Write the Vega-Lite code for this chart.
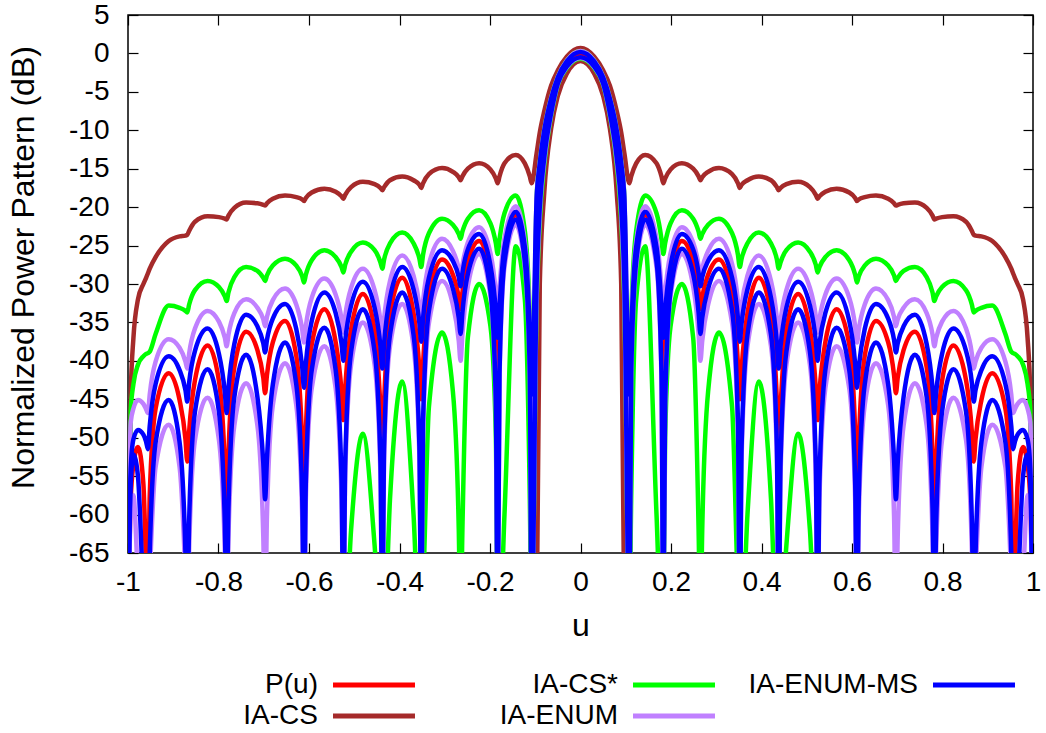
{
"$schema": "https://vega.github.io/schema/vega-lite/v6.json",
"width": 905, "height": 538,
"autosize": {"type": "none"},
"padding": {"left": 128, "top": 15, "right": 13, "bottom": 180},
"config": {
  "font": "Liberation Sans",
  "view": {"stroke": "black", "strokeWidth": 1.5},
  "axis": {"labelFont": "Liberation Sans", "labelFontSize": 28, "labelColor": "black", "titleFont": "Liberation Sans", "titleFontSize": 32, "titleFontWeight": "normal", "titleColor": "black", "tickColor": "black", "tickWidth": 1.2, "grid": false, "domain": false},
  "legend": {"labelFont": "Liberation Sans", "labelFontSize": 28, "labelColor": "black"}
},
"datasets": {
"keys": [{"k":"P","series":"P(u)"},{"k":"Su","series":"IA-CS"},{"k":"Sl","series":"IA-CS"},{"k":"Gu","series":"IA-CS*"},{"k":"Gl","series":"IA-CS*"},{"k":"Eu","series":"IA-ENUM"},{"k":"El","series":"IA-ENUM"},{"k":"Mu","series":"IA-ENUM-MS"},{"k":"Ml","series":"IA-ENUM-MS"}],
"d": [
{"u":0,"P":0,"Su":0.7,"Sl":-1.0,"Gu":0.3,"Gl":-0.7,"Eu":0.3,"El":-0.6,"Mu":0.2,"Ml":-0.5},
{"u":0.03,"P":-1.2,"Su":-0.4,"Sl":-2.6,"Gu":-0.9,"Gl":-1.9,"Eu":-0.9,"El":-1.8,"Mu":-1.0,"Ml":-1.7},
{"u":0.05,"P":-3.4,"Su":-2.2,"Sl":-5.5,"Gu":-3.0,"Gl":-4.1,"Eu":-3.0,"El":-4.0,"Mu":-3.1,"Ml":-3.9},
{"u":0.065,"P":-6.3,"Su":-4.2,"Sl":-9.8,"Gu":-5.8,"Gl":-8.2,"Eu":-5.8,"El":-8.0,"Mu":-5.9,"Ml":-7.8},
{"u":0.08,"P":-10.6,"Su":-7.5,"Sl":-18,"Gu":-9.9,"Gl":-14.5,"Eu":-9.9,"El":-14,"Mu":-10.0,"Ml":-13.5},
{"u":0.09,"P":-15.3,"Su":-10.3,"Sl":-30,"Gu":-14.2,"Gl":-22,"Eu":-14.2,"El":-21,"Mu":-14.3,"Ml":-20},
{"u":0.097,"P":-20.7,"Su":-13.0,"Sl":-75,"Gu":-18.8,"Gl":-33,"Eu":-18.8,"El":-32,"Mu":-19.0,"Ml":-30},
{"u":0.108,"P":-75,"Su":-16.9,"Gu":-75,"Gl":-75,"Eu":-58.3,"El":-75,"Mu":-44.4,"Ml":-75},
{"u":0.112,"P":-37,"Su":-16.0,"Gu":-34.5,"Gl":-58,"Eu":-35.9,"El":-42.3,"Mu":-36.6,"Ml":-41.6},
{"u":0.123,"P":-25.6,"Su":-14.3,"Gu":-23.1,"Gl":-32,"Eu":-24.5,"El":-27.8,"Mu":-25.2,"Ml":-27.1},
{"u":0.143,"P":-21.0,"Su":-13.2,"Gu":-18.5,"Gl":-25.1,"Eu":-19.9,"El":-22.3,"Mu":-20.6,"Ml":-21.6},
{"u":0.168,"P":-25.6,"Su":-14.3,"Gu":-20.8,"Gl":-60,"Eu":-24.1,"El":-27.8,"Mu":-25.2,"Ml":-27.1},
{"u":0.179,"P":-36.8,"Su":-16.0,"Gu":-24.2,"Gl":-75,"Eu":-30.5,"El":-42.3,"Mu":-32.9,"Ml":-41.6},
{"u":0.183,"P":-42,"Su":-16.9,"Gu":-26.1,"Gl":-75,"Eu":-34,"El":-75,"Mu":-37,"Ml":-75},
{"u":0.187,"P":-37.6,"Su":-16.3,"Gu":-24.7,"Gl":-50,"Eu":-31.2,"El":-46.1,"Mu":-33.6,"Ml":-45.4},
{"u":0.199,"P":-29.0,"Su":-15.1,"Gu":-22.1,"Gl":-35.5,"Eu":-26.0,"El":-31.6,"Mu":-27.6,"Ml":-30.9},
{"u":0.224,"P":-24.4,"Su":-14.3,"Gu":-20.4,"Gl":-30,"Eu":-22.6,"El":-26.1,"Mu":-23.5,"Ml":-25.4},
{"u":0.249,"P":-27.1,"Su":-15.0,"Gu":-21.5,"Gl":-37,"Eu":-24.6,"El":-30.3,"Mu":-25.5,"Ml":-28.7},
{"u":0.261,"P":-31.1,"Su":-16.0,"Gu":-23.2,"Gl":-62,"Eu":-27.6,"El":-36.5,"Mu":-28.6,"Ml":-33.7},
{"u":0.265,"P":-33.3,"Su":-16.5,"Gu":-24.1,"Gl":-75,"Eu":-29.3,"El":-40,"Mu":-30.3,"Ml":-36.5},
{"u":0.269,"P":-31.7,"Su":-16.1,"Gu":-23.5,"Gl":-62,"Eu":-28.0,"El":-37.4,"Mu":-29.1,"Ml":-34.4},
{"u":0.282,"P":-28.8,"Su":-15.4,"Gu":-22.3,"Gl":-44,"Eu":-25.7,"El":-32.7,"Mu":-27.0,"Ml":-30.6},
{"u":0.306,"P":-26.8,"Su":-14.9,"Gu":-21.5,"Gl":-36.3,"Eu":-24.1,"El":-29.6,"Mu":-25.6,"Ml":-28.0},
{"u":0.335,"P":-31.4,"Su":-15.7,"Gu":-23.4,"Gl":-46,"Eu":-27.4,"El":-35.1,"Mu":-29.2,"Ml":-33.5},
{"u":0.348,"P":-40.5,"Su":-16.9,"Gu":-26.2,"Gl":-70,"Eu":-32.3,"El":-49.6,"Mu":-34.5,"Ml":-48},
{"u":0.352,"P":-45,"Su":-17.5,"Gu":-27.8,"Gl":-75,"Eu":-35,"El":-75,"Mu":-37.5,"Ml":-75},
{"u":0.356,"P":-41.1,"Su":-17.1,"Gu":-26.7,"Gl":-75,"Eu":-32.8,"El":-52.6,"Mu":-35.1,"Ml":-51.1},
{"u":0.369,"P":-33.8,"Su":-16.5,"Gu":-24.7,"Gl":-60,"Eu":-28.9,"El":-38.1,"Mu":-30.7,"Ml":-36.6},
{"u":0.394,"P":-29.2,"Su":-16.0,"Gu":-23.3,"Gl":-42.7,"Eu":-26.3,"El":-32.6,"Mu":-27.8,"Ml":-31.1},
{"u":0.421,"P":-33.8,"Su":-16.5,"Gu":-24.7,"Gl":-58,"Eu":-29.6,"El":-38.1,"Mu":-31.8,"Ml":-36.6},
{"u":0.434,"P":-45.2,"Su":-17.4,"Gu":-26.8,"Gl":-75,"Eu":-34.5,"El":-52.6,"Mu":-37.7,"Ml":-51.1},
{"u":0.438,"P":-51.2,"Su":-17.8,"Gu":-28.0,"Gl":-75,"Eu":-37.2,"El":-75,"Mu":-41,"Ml":-75},
{"u":0.442,"P":-46.2,"Su":-17.5,"Gu":-27.2,"Gl":-75,"Eu":-34.9,"El":-55,"Mu":-38.2,"Ml":-53.3},
{"u":0.455,"P":-35.9,"Su":-17.0,"Gu":-25.6,"Gl":-64,"Eu":-30.8,"El":-40.5,"Mu":-33.1,"Ml":-38.8},
{"u":0.481,"P":-31.3,"Su":-16.7,"Gu":-24.6,"Gl":-49.5,"Eu":-28.0,"El":-35,"Mu":-29.7,"Ml":-33.3},
{"u":0.507,"P":-35.9,"Su":-17.4,"Gu":-25.8,"Gl":-62,"Eu":-30.5,"El":-40.5,"Mu":-32.8,"Ml":-38.8},
{"u":0.520,"P":-43.6,"Su":-18.4,"Gu":-27.5,"Gl":-75,"Eu":-34.2,"El":-55,"Mu":-37.4,"Ml":-53.3},
{"u":0.524,"P":-47.7,"Su":-18.9,"Gu":-28.5,"Gl":-75,"Eu":-36.3,"El":-75,"Mu":-40,"Ml":-75},
{"u":0.528,"P":-44.1,"Su":-18.6,"Gu":-27.8,"Eu":-34.6,"El":-58.1,"Mu":-37.8,"Ml":-55.7},
{"u":0.541,"P":-37.6,"Su":-18.0,"Gu":-26.5,"Eu":-31.4,"El":-43.6,"Mu":-33.8,"Ml":-41.2},
{"u":0.566,"P":-33.3,"Su":-17.6,"Gu":-25.6,"Eu":-29.3,"El":-38.1,"Mu":-31.1,"Ml":-35.7},
{"u":0.594,"P":-37.9,"Su":-18.1,"Gu":-26.9,"Eu":-31.8,"El":-43.6,"Mu":-34.8,"Ml":-41.2},
{"u":0.607,"P":-49.3,"Su":-18.8,"Gu":-28.8,"Eu":-35.5,"El":-58.1,"Mu":-40.4,"Ml":-55.7},
{"u":0.611,"P":-60.4,"Su":-19.2,"Gu":-29.8,"Eu":-37.6,"El":-75,"Mu":-43.5,"Ml":-75},
{"u":0.615,"P":-50.8,"Su":-19.0,"Gu":-29.0,"Eu":-35.9,"El":-60.3,"Mu":-40.8,"Ml":-57.6},
{"u":0.628,"P":-39.4,"Su":-18.7,"Gu":-27.6,"Eu":-32.7,"El":-45.8,"Mu":-35.9,"Ml":-43.1},
{"u":0.653,"P":-34.8,"Su":-18.5,"Gu":-26.7,"Eu":-30.6,"El":-40.3,"Mu":-32.6,"Ml":-37.6},
{"u":0.680,"P":-37.6,"Su":-18.9,"Gu":-27.6,"Eu":-32.1,"El":-45.8,"Mu":-34.5,"Ml":-43.1},
{"u":0.693,"P":-41.9,"Su":-19.5,"Gu":-28.9,"Eu":-34.3,"El":-60.3,"Mu":-37.3,"Ml":-52.9},
{"u":0.697,"P":-44.2,"Su":-19.8,"Gu":-29.6,"Eu":-35.5,"El":-75,"Mu":-38.9,"Ml":-58},
{"u":0.701,"P":-42.2,"Su":-19.7,"Gu":-29.2,"Eu":-34.6,"El":-62.9,"Mu":-37.7,"Ml":-53.3},
{"u":0.714,"P":-38.6,"Su":-19.5,"Gu":-28.3,"Eu":-33.1,"El":-48.4,"Mu":-35.5,"Ml":-44.7},
{"u":0.739,"P":-36.2,"Su":-19.4,"Gu":-27.8,"Eu":-32.0,"El":-42.9,"Mu":-34.0,"Ml":-39.2},
{"u":0.765,"P":-40.8,"Su":-20.1,"Gu":-29.1,"Eu":-33.8,"El":-48.4,"Mu":-37.8,"Ml":-44.7},
{"u":0.778,"P":-52.2,"Su":-21.1,"Gu":-31.1,"Eu":-36.6,"El":-62.9,"Mu":-43.6,"Ml":-59.2},
{"u":0.782,"P":-63.2,"Su":-21.6,"Gu":-32.2,"Eu":-38.1,"El":-75,"Mu":-46.8,"Ml":-75},
{"u":0.786,"P":-54,"Su":-21.5,"Gu":-31.6,"Eu":-37.0,"El":-64.8,"Mu":-44.1,"Ml":-61.1},
{"u":0.799,"P":-42.6,"Su":-21.3,"Gu":-30.4,"Eu":-34.9,"El":-50.3,"Mu":-39.1,"Ml":-46.6},
{"u":0.824,"P":-38.0,"Su":-21.2,"Gu":-29.6,"Eu":-33.5,"El":-44.8,"Mu":-35.8,"Ml":-41.1},
{"u":0.852,"P":-42.5,"Su":-21.9,"Gu":-30.8,"Eu":-35.8,"El":-50.3,"Mu":-38.7,"Ml":-46.6},
{"u":0.865,"P":-49.3,"Su":-23.1,"Gu":-32.7,"Eu":-39.1,"El":-64.8,"Mu":-42.9,"Ml":-61.1},
{"u":0.869,"P":-53.1,"Su":-23.6,"Gu":-33.7,"Eu":-41,"El":-75,"Mu":-45.3,"Ml":-75},
{"u":0.873,"P":-50.2,"Su":-23.7,"Gu":-33.5,"Eu":-40.1,"El":-68.3,"Mu":-43.8,"Ml":-65.1},
{"u":0.886,"P":-45.1,"Su":-23.8,"Gu":-33.1,"Eu":-38.3,"El":-53.8,"Mu":-41.2,"Ml":-50.6},
{"u":0.910,"P":-41.6,"Su":-24.4,"Gu":-32.8,"Eu":-37.2,"El":-48.3,"Mu":-39.4,"Ml":-45.1},
{"u":0.939,"P":-46.2,"Su":-26.5,"Gu":-36.5,"Eu":-40.1,"El":-53.8,"Mu":-43.0,"Ml":-50.6},
{"u":0.952,"P":-57.6,"Su":-28.0,"Gu":-38.8,"Eu":-44.4,"El":-68.3,"Mu":-48.5,"Ml":-65.1},
{"u":0.956,"P":-75,"Su":-28.6,"Gu":-39.0,"Eu":-46.8,"El":-75,"Mu":-51.5,"Ml":-75},
{"u":0.960,"P":-67,"Su":-29.2,"Gu":-39.1,"Eu":-46.3,"El":-75,"Mu":-50.5,"Ml":-75},
{"u":0.966,"P":-56,"Su":-30.0,"Gu":-39.4,"Eu":-45.6,"El":-75,"Mu":-49.6,"Ml":-70},
{"u":0.978,"P":-51.2,"Su":-32.0,"Gu":-40.5,"Eu":-45.1,"El":-68,"Mu":-49.0,"Ml":-55},
{"u":0.988,"P":-53.5,"Su":-37,"Gu":-43,"Eu":-46.2,"El":-57.5,"Mu":-50.2,"Ml":-52.2},
{"u":0.994,"P":-58,"Su":-44.5,"Gu":-46.5,"Eu":-48,"El":-60,"Mu":-54,"Ml":-56},
{"u":1.0,"P":-75,"Su":-75,"Gu":-75,"Eu":-75,"El":-75,"Mu":-75,"Ml":-75},
{"u":-0.03,"P":-1.2,"Su":-0.4,"Sl":-2.6,"Gu":-0.9,"Gl":-1.9,"Eu":-0.9,"El":-1.8,"Mu":-1.0,"Ml":-1.7},
{"u":-0.05,"P":-3.4,"Su":-2.2,"Sl":-5.5,"Gu":-3.0,"Gl":-4.1,"Eu":-3.0,"El":-4.0,"Mu":-3.1,"Ml":-3.9},
{"u":-0.065,"P":-6.3,"Su":-4.2,"Sl":-9.8,"Gu":-5.8,"Gl":-8.2,"Eu":-5.8,"El":-8.0,"Mu":-5.9,"Ml":-7.8},
{"u":-0.08,"P":-10.6,"Su":-7.5,"Sl":-18,"Gu":-9.9,"Gl":-14.5,"Eu":-9.9,"El":-14,"Mu":-10.0,"Ml":-13.5},
{"u":-0.09,"P":-15.3,"Su":-10.3,"Sl":-30,"Gu":-14.2,"Gl":-22,"Eu":-14.2,"El":-21,"Mu":-14.3,"Ml":-20},
{"u":-0.097,"P":-20.7,"Su":-13.0,"Sl":-75,"Gu":-18.8,"Gl":-33,"Eu":-18.8,"El":-32,"Mu":-19.0,"Ml":-30},
{"u":-0.108,"P":-75,"Su":-16.9,"Gu":-75,"Gl":-75,"Eu":-58.3,"El":-75,"Mu":-44.4,"Ml":-75},
{"u":-0.112,"P":-37,"Su":-16.0,"Gu":-34.5,"Gl":-58,"Eu":-35.9,"El":-42.3,"Mu":-36.6,"Ml":-41.6},
{"u":-0.123,"P":-25.6,"Su":-14.3,"Gu":-23.1,"Gl":-32,"Eu":-24.5,"El":-27.8,"Mu":-25.2,"Ml":-27.1},
{"u":-0.143,"P":-21.0,"Su":-13.2,"Gu":-18.5,"Gl":-25.1,"Eu":-19.9,"El":-22.3,"Mu":-20.6,"Ml":-21.6},
{"u":-0.168,"P":-25.6,"Su":-14.3,"Gu":-20.8,"Gl":-60,"Eu":-24.1,"El":-27.8,"Mu":-25.2,"Ml":-27.1},
{"u":-0.179,"P":-36.8,"Su":-16.0,"Gu":-24.2,"Gl":-75,"Eu":-30.5,"El":-42.3,"Mu":-32.9,"Ml":-41.6},
{"u":-0.183,"P":-42,"Su":-16.9,"Gu":-26.1,"Gl":-75,"Eu":-34,"El":-75,"Mu":-37,"Ml":-75},
{"u":-0.187,"P":-37.6,"Su":-16.3,"Gu":-24.7,"Gl":-50,"Eu":-31.2,"El":-46.1,"Mu":-33.6,"Ml":-45.4},
{"u":-0.199,"P":-29.0,"Su":-15.1,"Gu":-22.1,"Gl":-35.5,"Eu":-26.0,"El":-31.6,"Mu":-27.6,"Ml":-30.9},
{"u":-0.224,"P":-24.4,"Su":-14.3,"Gu":-20.4,"Gl":-30,"Eu":-22.6,"El":-26.1,"Mu":-23.5,"Ml":-25.4},
{"u":-0.249,"P":-27.1,"Su":-15.0,"Gu":-21.5,"Gl":-37,"Eu":-24.6,"El":-30.3,"Mu":-25.5,"Ml":-28.7},
{"u":-0.261,"P":-31.1,"Su":-16.0,"Gu":-23.2,"Gl":-62,"Eu":-27.6,"El":-36.5,"Mu":-28.6,"Ml":-33.7},
{"u":-0.265,"P":-33.3,"Su":-16.5,"Gu":-24.1,"Gl":-75,"Eu":-29.3,"El":-40,"Mu":-30.3,"Ml":-36.5},
{"u":-0.269,"P":-31.7,"Su":-16.1,"Gu":-23.5,"Gl":-62,"Eu":-28.0,"El":-37.4,"Mu":-29.1,"Ml":-34.4},
{"u":-0.282,"P":-28.8,"Su":-15.4,"Gu":-22.3,"Gl":-44,"Eu":-25.7,"El":-32.7,"Mu":-27.0,"Ml":-30.6},
{"u":-0.306,"P":-26.8,"Su":-14.9,"Gu":-21.5,"Gl":-36.3,"Eu":-24.1,"El":-29.6,"Mu":-25.6,"Ml":-28.0},
{"u":-0.335,"P":-31.4,"Su":-15.7,"Gu":-23.4,"Gl":-46,"Eu":-27.4,"El":-35.1,"Mu":-29.2,"Ml":-33.5},
{"u":-0.348,"P":-40.5,"Su":-16.9,"Gu":-26.2,"Gl":-70,"Eu":-32.3,"El":-49.6,"Mu":-34.5,"Ml":-48},
{"u":-0.352,"P":-45,"Su":-17.5,"Gu":-27.8,"Gl":-75,"Eu":-35,"El":-75,"Mu":-37.5,"Ml":-75},
{"u":-0.356,"P":-41.1,"Su":-17.1,"Gu":-26.7,"Gl":-75,"Eu":-32.8,"El":-52.6,"Mu":-35.1,"Ml":-51.1},
{"u":-0.369,"P":-33.8,"Su":-16.5,"Gu":-24.7,"Gl":-60,"Eu":-28.9,"El":-38.1,"Mu":-30.7,"Ml":-36.6},
{"u":-0.394,"P":-29.2,"Su":-16.0,"Gu":-23.3,"Gl":-42.7,"Eu":-26.3,"El":-32.6,"Mu":-27.8,"Ml":-31.1},
{"u":-0.421,"P":-33.8,"Su":-16.5,"Gu":-24.7,"Gl":-58,"Eu":-29.6,"El":-38.1,"Mu":-31.8,"Ml":-36.6},
{"u":-0.434,"P":-45.2,"Su":-17.4,"Gu":-26.8,"Gl":-75,"Eu":-34.5,"El":-52.6,"Mu":-37.7,"Ml":-51.1},
{"u":-0.438,"P":-51.2,"Su":-17.8,"Gu":-28.0,"Gl":-75,"Eu":-37.2,"El":-75,"Mu":-41,"Ml":-75},
{"u":-0.442,"P":-46.2,"Su":-17.5,"Gu":-27.2,"Gl":-75,"Eu":-34.9,"El":-55,"Mu":-38.2,"Ml":-53.3},
{"u":-0.455,"P":-35.9,"Su":-17.0,"Gu":-25.6,"Gl":-64,"Eu":-30.8,"El":-40.5,"Mu":-33.1,"Ml":-38.8},
{"u":-0.481,"P":-31.3,"Su":-16.7,"Gu":-24.6,"Gl":-49.5,"Eu":-28.0,"El":-35,"Mu":-29.7,"Ml":-33.3},
{"u":-0.507,"P":-35.9,"Su":-17.4,"Gu":-25.8,"Gl":-62,"Eu":-30.5,"El":-40.5,"Mu":-32.8,"Ml":-38.8},
{"u":-0.520,"P":-43.6,"Su":-18.4,"Gu":-27.5,"Gl":-75,"Eu":-34.2,"El":-55,"Mu":-37.4,"Ml":-53.3},
{"u":-0.524,"P":-47.7,"Su":-18.9,"Gu":-28.5,"Gl":-75,"Eu":-36.3,"El":-75,"Mu":-40,"Ml":-75},
{"u":-0.528,"P":-44.1,"Su":-18.6,"Gu":-27.8,"Eu":-34.6,"El":-58.1,"Mu":-37.8,"Ml":-55.7},
{"u":-0.541,"P":-37.6,"Su":-18.0,"Gu":-26.5,"Eu":-31.4,"El":-43.6,"Mu":-33.8,"Ml":-41.2},
{"u":-0.566,"P":-33.3,"Su":-17.6,"Gu":-25.6,"Eu":-29.3,"El":-38.1,"Mu":-31.1,"Ml":-35.7},
{"u":-0.594,"P":-37.9,"Su":-18.1,"Gu":-26.9,"Eu":-31.8,"El":-43.6,"Mu":-34.8,"Ml":-41.2},
{"u":-0.607,"P":-49.3,"Su":-18.8,"Gu":-28.8,"Eu":-35.5,"El":-58.1,"Mu":-40.4,"Ml":-55.7},
{"u":-0.611,"P":-60.4,"Su":-19.2,"Gu":-29.8,"Eu":-37.6,"El":-75,"Mu":-43.5,"Ml":-75},
{"u":-0.615,"P":-50.8,"Su":-19.0,"Gu":-29.0,"Eu":-35.9,"El":-60.3,"Mu":-40.8,"Ml":-57.6},
{"u":-0.628,"P":-39.4,"Su":-18.7,"Gu":-27.6,"Eu":-32.7,"El":-45.8,"Mu":-35.9,"Ml":-43.1},
{"u":-0.653,"P":-34.8,"Su":-18.5,"Gu":-26.7,"Eu":-30.6,"El":-40.3,"Mu":-32.6,"Ml":-37.6},
{"u":-0.680,"P":-37.6,"Su":-18.9,"Gu":-27.6,"Eu":-32.1,"El":-45.8,"Mu":-34.5,"Ml":-43.1},
{"u":-0.693,"P":-41.9,"Su":-19.5,"Gu":-28.9,"Eu":-34.3,"El":-60.3,"Mu":-37.3,"Ml":-52.9},
{"u":-0.697,"P":-44.2,"Su":-19.8,"Gu":-29.6,"Eu":-35.5,"El":-75,"Mu":-38.9,"Ml":-58},
{"u":-0.701,"P":-42.2,"Su":-19.7,"Gu":-29.2,"Eu":-34.6,"El":-62.9,"Mu":-37.7,"Ml":-53.3},
{"u":-0.714,"P":-38.6,"Su":-19.5,"Gu":-28.3,"Eu":-33.1,"El":-48.4,"Mu":-35.5,"Ml":-44.7},
{"u":-0.739,"P":-36.2,"Su":-19.4,"Gu":-27.8,"Eu":-32.0,"El":-42.9,"Mu":-34.0,"Ml":-39.2},
{"u":-0.765,"P":-40.8,"Su":-20.1,"Gu":-29.1,"Eu":-33.8,"El":-48.4,"Mu":-37.8,"Ml":-44.7},
{"u":-0.778,"P":-52.2,"Su":-21.1,"Gu":-31.1,"Eu":-36.6,"El":-62.9,"Mu":-43.6,"Ml":-59.2},
{"u":-0.782,"P":-63.2,"Su":-21.6,"Gu":-32.2,"Eu":-38.1,"El":-75,"Mu":-46.8,"Ml":-75},
{"u":-0.786,"P":-54,"Su":-21.5,"Gu":-31.6,"Eu":-37.0,"El":-64.8,"Mu":-44.1,"Ml":-61.1},
{"u":-0.799,"P":-42.6,"Su":-21.3,"Gu":-30.4,"Eu":-34.9,"El":-50.3,"Mu":-39.1,"Ml":-46.6},
{"u":-0.824,"P":-38.0,"Su":-21.2,"Gu":-29.6,"Eu":-33.5,"El":-44.8,"Mu":-35.8,"Ml":-41.1},
{"u":-0.852,"P":-42.5,"Su":-21.9,"Gu":-30.8,"Eu":-35.8,"El":-50.3,"Mu":-38.7,"Ml":-46.6},
{"u":-0.865,"P":-49.3,"Su":-23.1,"Gu":-32.7,"Eu":-39.1,"El":-64.8,"Mu":-42.9,"Ml":-61.1},
{"u":-0.869,"P":-53.1,"Su":-23.6,"Gu":-33.7,"Eu":-41,"El":-75,"Mu":-45.3,"Ml":-75},
{"u":-0.873,"P":-50.2,"Su":-23.7,"Gu":-33.5,"Eu":-40.1,"El":-68.3,"Mu":-43.8,"Ml":-65.1},
{"u":-0.886,"P":-45.1,"Su":-23.8,"Gu":-33.1,"Eu":-38.3,"El":-53.8,"Mu":-41.2,"Ml":-50.6},
{"u":-0.910,"P":-41.6,"Su":-24.4,"Gu":-32.8,"Eu":-37.2,"El":-48.3,"Mu":-39.4,"Ml":-45.1},
{"u":-0.939,"P":-46.2,"Su":-26.5,"Gu":-36.5,"Eu":-40.1,"El":-53.8,"Mu":-43.0,"Ml":-50.6},
{"u":-0.952,"P":-57.6,"Su":-28.0,"Gu":-38.8,"Eu":-44.4,"El":-68.3,"Mu":-48.5,"Ml":-65.1},
{"u":-0.956,"P":-75,"Su":-28.6,"Gu":-39.0,"Eu":-46.8,"El":-75,"Mu":-51.5,"Ml":-75},
{"u":-0.960,"P":-67,"Su":-29.2,"Gu":-39.1,"Eu":-46.3,"El":-75,"Mu":-50.5,"Ml":-75},
{"u":-0.966,"P":-56,"Su":-30.0,"Gu":-39.4,"Eu":-45.6,"El":-75,"Mu":-49.6,"Ml":-70},
{"u":-0.978,"P":-51.2,"Su":-32.0,"Gu":-40.5,"Eu":-45.1,"El":-68,"Mu":-49.0,"Ml":-55},
{"u":-0.988,"P":-53.5,"Su":-37,"Gu":-43,"Eu":-46.2,"El":-57.5,"Mu":-50.2,"Ml":-52.2},
{"u":-0.994,"P":-58,"Su":-44.5,"Gu":-46.5,"Eu":-48,"El":-60,"Mu":-54,"Ml":-56},
{"u":-1.0,"P":-75,"Su":-75,"Gu":-75,"Eu":-75,"El":-75,"Mu":-75,"Ml":-75}
]
},
"data": {"name": "d"},
"transform": [
  {"fold": ["P","Su","Sl","Gu","Gl","Eu","El","Mu","Ml"], "as": ["k","v"]},
  {"filter": "isValid(datum.v)"},
  {"lookup": "k", "from": {"data": {"name": "keys"}, "key": "k", "fields": ["series"]}}
],
"layer": [
  {
    "encoding": {
      "x": {"field": "u", "type": "quantitative", "scale": {"domain": [-1, 1], "nice": false, "zero": false},
            "axis": {"values": [-1,-0.8,-0.6,-0.4,-0.2,0,0.2,0.4,0.6,0.8,1], "labelExpr": "'' + datum.value", "title": "u", "tickSize": -10, "labelPadding": 25, "labelFlush": false, "labelOverlap": false, "titleY": 57}},
      "y": {"field": "v", "type": "quantitative", "scale": {"domain": [-65, 5], "nice": false, "zero": false},
            "axis": {"values": [-65,-60,-55,-50,-45,-40,-35,-30,-25,-20,-15,-10,-5,0,5], "labelExpr": "'' + datum.value", "title": "Normalized Power Pattern (dB)", "tickSize": -10, "labelPadding": 29, "labelFlush": false, "labelOverlap": false, "titleX": -88, "titleY": 252}},
      "color": {"field": "series", "type": "nominal",
                "scale": {"domain": ["P(u)", "IA-CS", "IA-CS*", "IA-ENUM", "IA-ENUM-MS"], "range": ["#ff0000", "#a52a2a", "#00ff00", "#c080ff", "#0000ff"]},
                "legend": {"orient": "none", "direction": "vertical", "legendX": 232, "legendY": 656, "title": null, "columns": 3, "symbolType": "M-4,0H4", "symbolSize": 420, "symbolStrokeWidth": 5, "labelAlign": "right", "labelOffset": -70, "labelLimit": 0, "gridAlign": "all", "columnPadding": 23, "rowPadding": 3, "padding": 0}},
      "detail": {"field": "k"}
    },
    "layer": [
      {"transform": [{"filter": "datum.series == 'P(u)'"}], "mark": {"type": "line", "strokeWidth": 4.5, "clip": true, "interpolate": "monotone", "strokeJoin": "round"}},
      {"transform": [{"filter": "datum.series == 'IA-CS'"}], "mark": {"type": "line", "strokeWidth": 4.5, "clip": true, "interpolate": "monotone", "strokeJoin": "round"}},
      {"transform": [{"filter": "datum.series == 'IA-CS*'"}], "mark": {"type": "line", "strokeWidth": 4.5, "clip": true, "interpolate": "monotone", "strokeJoin": "round"}},
      {"transform": [{"filter": "datum.series == 'IA-ENUM'"}], "mark": {"type": "line", "strokeWidth": 4.5, "clip": true, "interpolate": "monotone", "strokeJoin": "round"}},
      {"transform": [{"filter": "datum.series == 'IA-ENUM-MS'"}], "mark": {"type": "line", "strokeWidth": 4.5, "clip": true, "interpolate": "monotone", "strokeJoin": "round"}}
    ]
  },
  {
    "mark": {"type": "point", "opacity": 0, "clip": true},
    "encoding": {
      "x": {"field": "u", "type": "quantitative", "scale": {"domain": [-1, 1], "nice": false, "zero": false},
            "axis": {"orient": "top", "values": [-1,-0.8,-0.6,-0.4,-0.2,0,0.2,0.4,0.6,0.8,1], "labels": false, "title": null, "tickSize": -10}},
      "y": {"field": "v", "type": "quantitative", "scale": {"domain": [-65, 5], "nice": false, "zero": false},
            "axis": {"orient": "right", "values": [-65,-60,-55,-50,-45,-40,-35,-30,-25,-20,-15,-10,-5,0,5], "labels": false, "title": null, "tickSize": -10}}
    }
  }
],
"resolve": {"axis": {"x": "independent", "y": "independent"}}
}
